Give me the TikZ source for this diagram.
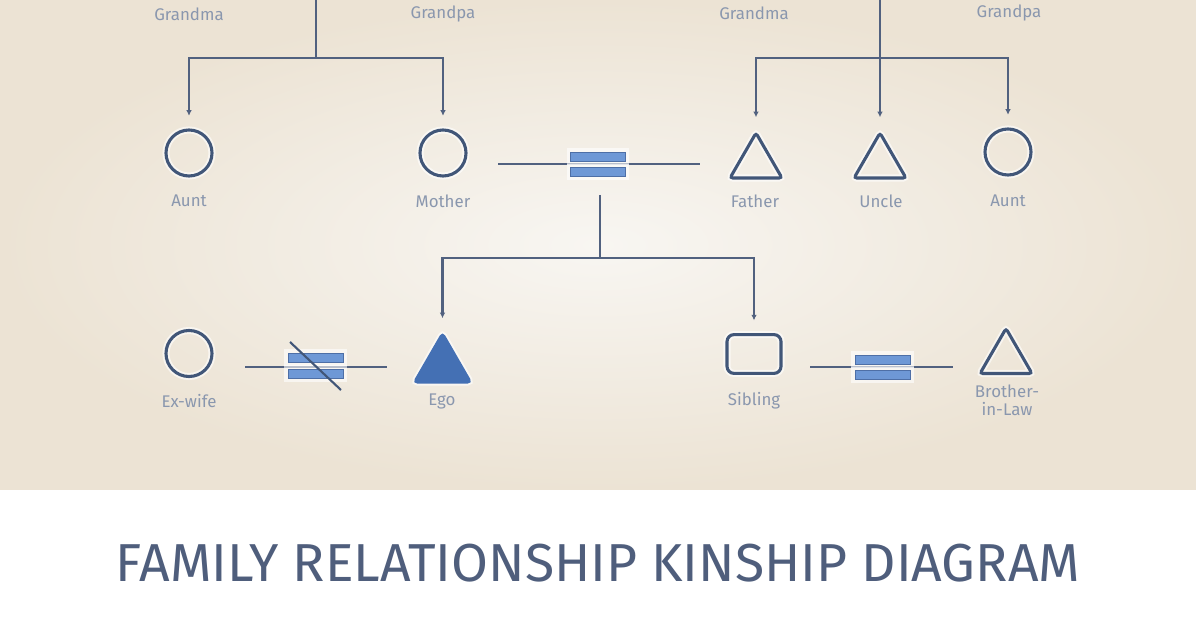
\documentclass[tikz,border=0pt]{standalone}
\usepackage{fontspec}
\setmainfont{Fira Sans}
\usetikzlibrary{shapes.geometric,arrows.meta,positioning}

\definecolor{paperin}{HTML}{F8F6F2}
\definecolor{paperout}{HTML}{ECE3D4}
\definecolor{kinline}{HTML}{51617F}
\definecolor{kinshape}{HTML}{415678}
\definecolor{kinfill}{HTML}{4470B4}
\definecolor{barfill}{HTML}{6E98D6}
\definecolor{barline}{HTML}{4E6FA6}
\definecolor{kintext}{HTML}{8A97AE}
\definecolor{kintitle}{HTML}{4F5E7C}

\begin{document}
\begin{tikzpicture}[x=0.025cm, y=-0.025cm,
    halo/.style={preaction={draw=white, line width=5pt, opacity=0.6}},
    female/.style={circle, draw=kinshape, line width=2.2pt, minimum size=1.15cm, inner sep=0pt, halo},
    male/.style={regular polygon, regular polygon sides=3, draw=kinshape, line width=2.2pt,
        rounded corners=2pt, minimum size=1.5cm, inner sep=0pt, halo},
    sibbox/.style={rectangle, draw=kinshape, line width=2.2pt, rounded corners=5pt,
        minimum width=1.35cm, minimum height=0.97cm, inner sep=0pt, halo},
    bar/.style={rectangle, draw=barline, fill=barfill, line width=0.6pt,
        minimum width=1.375cm, minimum height=0.225cm, inner sep=0pt, halo},
    link/.style={draw=kinline, line width=1.5pt},
    arr/.style={-{Latex[length=4pt,width=4pt]}, shorten >=9pt},
    lbl/.style={text=kintext, font=\fontsize{12}{13}\selectfont, align=center}]

\useasboundingbox (0,0) rectangle (1196,628);
% background
\shade[inner color=paperin, outer color=paperout] (0,0) rectangle (1196,490);
\fill[white] (0,490) rectangle (1196,628);

% grandparents, cut off at the top
\node[lbl] (gmaL) at (189,14) {Grandma};
\node[lbl] (gpaL) at (443,14) {Grandpa};
\node[lbl] (gmaR) at (754,13) {Grandma};
\node[lbl] (gpaR) at (1009,13) {Grandpa};
\coordinate (topL) at (316,0);
\coordinate (forkL) at (316,58);
\coordinate (topR) at (880,0);
\coordinate (forkR) at (880,58);

% parents, aunts and uncle
\node[female] (auntL) at (189,153) {};
\node[female] (mother) at (443,153) {};
\node[male] (father) at (756,163) {};
\node[male] (uncle) at (880,163) {};
\node[female] (auntR) at (1008,152) {};
\node[lbl] (auntLtxt) at (189,201) {Aunt};
\node[lbl] (mothertxt) at (443,201) {Mother};
\node[lbl] (fathertxt) at (755,201) {Father};
\node[lbl] (uncletxt) at (881,201) {Uncle};
\node[lbl] (auntRtxt) at (1008,201) {Aunt};

\draw[link] (topL) -- (forkL);
\draw[link,arr] (forkL) -| (auntL.north);
\draw[link,arr] (forkL) -| (mother.north);
\draw[link,arr] (topR) -- (uncle.north);
\draw[link,arr] (forkR) -| (father.north);
\draw[link,arr] (forkR) -| (auntR.north);

% marriage of the parents
\coordinate (wedL) at (498,164);
\coordinate (wedR) at (700,164);
\draw[link] (wedL) -- (wedR);
\node[bar] (wedTop) at (598,156.5) {};
\node[bar] (wedBot) at (598,172) {};

% children
\coordinate (kidTop) at (600,195);
\coordinate (kidFork) at (600,258);
\node[male, fill=kinfill, draw=kinfill, minimum size=1.6cm] (ego) at (442.5,366) {};
\node[sibbox] (sibling) at (754,354) {};
\draw[link] (kidTop) -- (kidFork);
\draw[link,arr] (kidFork) -| (ego.north);
\draw[link,arr] (kidFork) -| (sibling.north);

% divorce
\node[female] (exwife) at (189,353.5) {};
\coordinate (divL) at (245,367);
\coordinate (divR) at (387,367);
\draw[link] (divL) -- (divR);
\node[bar] (divTop) at (315.5,357.5) {};
\node[bar] (divBot) at (315.5,373.5) {};
\coordinate (cutA) at (290,342);
\coordinate (cutB) at (341,390);
\draw[kinshape, line width=1.5pt] (cutA) -- (cutB);

% sibling's marriage
\node[male] (brolaw) at (1006,358.5) {};
\coordinate (sibL) at (810,367);
\coordinate (sibR) at (953,367);
\draw[link] (sibL) -- (sibR);
\node[bar] (sibTop) at (882.5,359.5) {};
\node[bar] (sibBot) at (882.5,375) {};

\node[lbl] (exwifetxt) at (189,401) {Ex-wife};
\node[lbl] (egotxt) at (442,401) {Ego};
\node[lbl] (siblingtxt) at (754,401) {Sibling};
\node[lbl] (brolawtxt) at (1007,400) {Brother-\\in-Law};

% title
\node[text=kintitle, font=\fontsize{38}{40}\selectfont] (title) at (598,563)
    {FAMILY RELATIONSHIP KINSHIP DIAGRAM};
\end{tikzpicture}
\end{document}
